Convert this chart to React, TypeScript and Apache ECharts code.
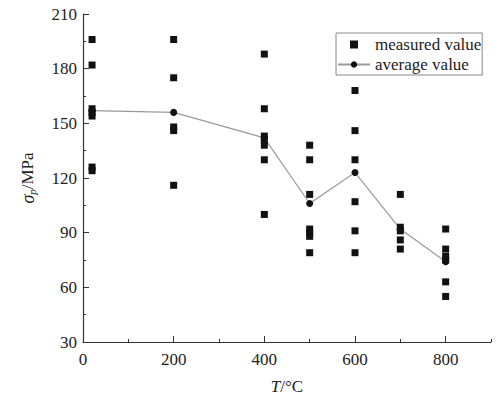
import React, { useEffect, useRef } from "react";
import * as echarts from "echarts";

const temps = [20, 200, 400, 500, 600, 700, 800];
const measured: number[][] = [
  [196, 182, 158, 156, 154, 126, 124],
  [196, 175, 148, 146, 116],
  [188, 158, 143, 141, 138, 130, 100],
  [138, 130, 111, 92, 90, 88, 79],
  [168, 146, 130, 107, 91, 79],
  [111, 93, 91, 86, 81],
  [92, 81, 77, 75, 63, 55],
];
const averages = [157, 156, 142, 106, 123, 92, 74];
const xLabelValues = [0, 200, 400, 600, 800];
const xMinorValues = [100, 300, 500, 700, 900];

const FONT = "Liberation Serif";

export default function App() {
  const ref = useRef<HTMLDivElement>(null);
  useEffect(() => {
    if (!ref.current) return;
    const chart = echarts.init(ref.current, undefined, { renderer: "svg" });
    const scatterData: number[][] = [];
    temps.forEach((t, i) => measured[i].forEach((v) => scatterData.push([t, v])));
    const lineData = temps.map((t, i) => [t, averages[i]]);
    const axisColor = "#333";
    chart.setOption({
      animation: false,
      backgroundColor: "#fff",
      textStyle: { fontFamily: FONT },
      grid: { left: 83, right: 10, top: 14, bottom: 63, containLabel: false },
      legend: {
        orient: "vertical",
        left: 336,
        top: 33,
        borderColor: "#888",
        borderWidth: 1,
        padding: [3, 1, 2, 1],
        itemGap: 3,
        itemWidth: 32,
        itemHeight: 8,
        symbolKeepAspect: true,
        textStyle: { fontFamily: FONT, fontSize: 17, color: "#222" },
        data: [
          { name: "measured value", icon: "path://M0 0H10V10H0Z", itemStyle: { color: "#111", opacity: 1 } },
          { name: "average value" },
        ],
      },
      xAxis: [
        {
          type: "value",
          min: 0,
          max: 900,
          interval: 100,
          name: "{i|T}/°C",
          nameLocation: "middle",
          nameGap: 36,
          nameTextStyle: {
            fontFamily: FONT,
            fontSize: 17,
            color: "#222",
            rich: { i: { fontStyle: "italic", fontFamily: FONT, fontSize: 17, color: "#222" } },
          },
          axisLine: { show: true, lineStyle: { color: axisColor, width: 1.2 } },
          axisTick: { show: true, inside: true, length: 6, customValues: xLabelValues, lineStyle: { color: axisColor } },
          axisLabel: { customValues: xLabelValues, fontFamily: FONT, fontSize: 17, color: "#222", margin: 9 },
          splitLine: { show: false },
        },
        {
          type: "value",
          min: 0,
          max: 900,
          interval: 100,
          position: "bottom",
          axisLine: { show: false },
          axisTick: { show: true, inside: true, length: 3, customValues: xMinorValues, lineStyle: { color: axisColor } },
          axisLabel: { show: false },
          splitLine: { show: false },
        },
      ],
      yAxis: {
        type: "value",
        min: 30,
        max: 210,
        interval: 30,
        name: "{s|σ}{p|p}{n|/MPa}",
        nameLocation: "middle",
        nameGap: 46,
        nameRotate: 90,
        nameTextStyle: {
          fontFamily: FONT,
          fontSize: 17,
          color: "#222",
          rich: {
            s: { fontStyle: "italic", fontFamily: FONT, fontSize: 18, color: "#222" },
            p: { fontStyle: "italic", fontFamily: FONT, fontSize: 11, color: "#222", verticalAlign: "bottom", padding: [8, 0, 0, 0] },
            n: { fontFamily: FONT, fontSize: 17, color: "#222" },
          },
        },
        axisLine: { show: true, lineStyle: { color: axisColor, width: 1.2 } },
        axisTick: { show: true, inside: true, length: 6, lineStyle: { color: axisColor } },
        minorTick: { show: true, splitNumber: 2, length: 3, lineStyle: { color: axisColor } },
        axisLabel: { fontFamily: FONT, fontSize: 17, color: "#222", margin: 6 },
        splitLine: { show: false },
      },
      series: [
        {
          name: "measured value",
          type: "scatter",
          symbol: "rect",
          symbolSize: 7,
          itemStyle: { color: "#111", opacity: 1 },
          data: scatterData,
          z: 3,
        },
        {
          name: "average value",
          type: "line",
          symbol: "circle",
          symbolSize: 7,
          itemStyle: { color: "#111", opacity: 1 },
          lineStyle: { color: "#999", width: 1.2 },
          data: lineData,
          z: 2,
        },
      ],
    });
    return () => chart.dispose();
  }, []);
  return <div ref={ref} style={{ width: 501, height: 405, margin: -8 }} />;
}
